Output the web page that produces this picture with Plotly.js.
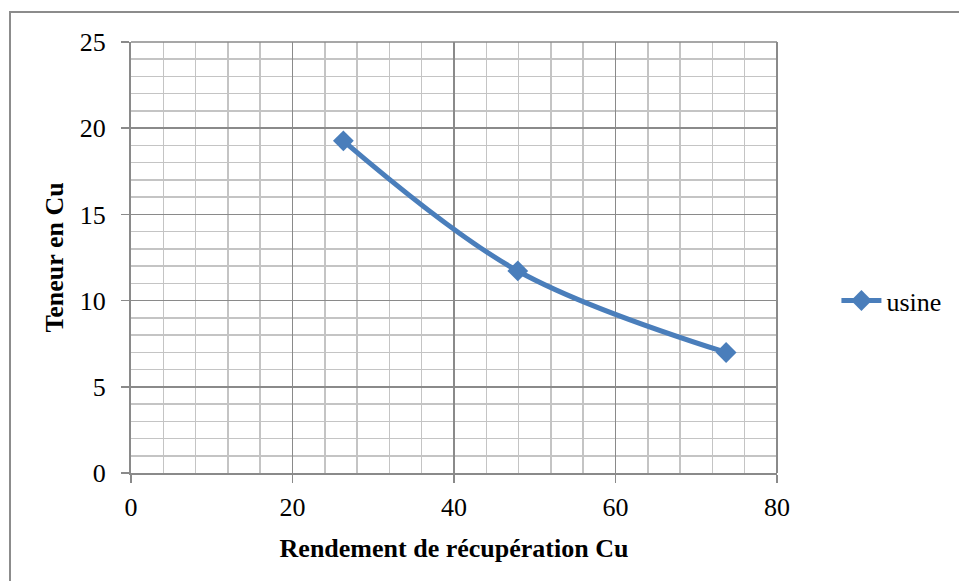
<!DOCTYPE html>
<html>
<head>
<meta charset="utf-8">
<script src="https://cdn.plot.ly/plotly-3.0.1.min.js"></script>
<style>
  html, body { margin: 0; padding: 0; background: #fff; }
  #wrap { position: relative; width: 959px; height: 581px; overflow: hidden; }
  #chart { position: absolute; left: 0; top: 0; width: 959px; height: 581px; }
  #frame { position: absolute; left: 9px; top: 11px; width: 1000px; height: 700px;
           border-top: 2px solid #8c8c8c; border-left: 2px solid #8c8c8c; pointer-events: none; }
</style>
</head>
<body>
<div id="wrap">
  <div id="chart"></div>
  <div id="frame"></div>
</div>
<script>
const seriesName = 'usine';
const rendement = [26.3, 47.9, 73.7];
const teneur = [19.27, 11.72, 6.99];
const xTitle = 'Rendement de récupération Cu';
const yTitle = 'Teneur en Cu';

const font = 'Liberation Serif, Times New Roman, serif';

const trace = {
  x: rendement,
  y: teneur,
  name: seriesName,
  type: 'scatter',
  mode: 'lines+markers',
  line: { color: '#4A7EBB', width: 5, shape: 'spline', smoothing: 1 },
  marker: { symbol: 'diamond', size: 16, color: '#4A7EBB' },
  showlegend: true
};

const layout = {
  width: 959, height: 581,
  margin: { l: 131, r: 182, t: 42, b: 108.3 },
  paper_bgcolor: 'rgba(0,0,0,0)',
  plot_bgcolor: '#fff',
  font: { family: font, size: 26, color: '#000' },
  showlegend: true,
  legend: {
    x: 1.092, xanchor: 'left', y: 0.4, yanchor: 'middle',
    font: { family: font, size: 26, color: '#000' },
    bgcolor: 'rgba(0,0,0,0)', itemwidth: 40
  },
  xaxis: {
    range: [0, 80], dtick: 20, tick0: 0,
    showgrid: true, gridcolor: '#8a8a8a', gridwidth: 1.5,
    minor: { dtick: 4, showgrid: true, gridcolor: '#c4c4c4', gridwidth: 1.5 },
    showline: true, linecolor: '#8a8a8a', linewidth: 2, mirror: false,
    ticks: 'outside', ticklen: 8, tickcolor: '#8a8a8a', tickwidth: 1.5,
    zeroline: false, tickfont: { family: font, size: 26 },
    ticklabelstandoff: 2,
    title: { text: '<b>' + xTitle + '</b>', font: { family: font, size: 26 }, standoff: 18 }
  },
  yaxis: {
    range: [0, 25], dtick: 5, tick0: 0,
    showgrid: true, gridcolor: '#8a8a8a', gridwidth: 1.5,
    minor: { dtick: 1, showgrid: true, gridcolor: '#c4c4c4', gridwidth: 1.5 },
    showline: true, linecolor: '#8a8a8a', linewidth: 2,
    ticks: 'outside', ticklen: 8, tickcolor: '#8a8a8a', tickwidth: 1.5,
    zeroline: false, tickfont: { family: font, size: 26 },
    ticklabelstandoff: 10,
    title: { text: '<b>' + yTitle + '</b>', font: { family: font, size: 26 }, standoff: 9 }
  },
  shapes: [
    { type: 'line', xref: 'paper', yref: 'paper', x0: 1, x1: 1, y0: 0, y1: 1,
      line: { color: '#8a8a8a', width: 2 } },
    { type: 'line', xref: 'paper', yref: 'paper', x0: 0, x1: 1, y0: 1, y1: 1,
      line: { color: '#8a8a8a', width: 1.5 } }
  ]
};

Plotly.newPlot('chart', [trace], layout, { displayModeBar: false, staticPlot: true });
</script>
</body>
</html>
